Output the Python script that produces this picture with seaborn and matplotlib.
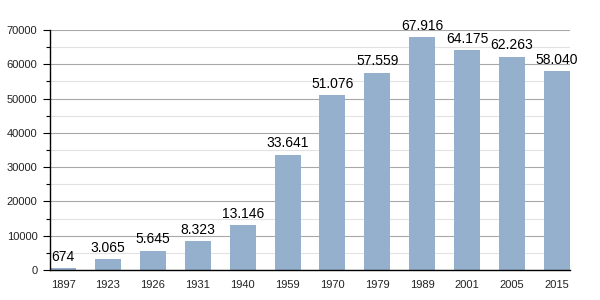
import matplotlib
matplotlib.use("Agg")
import matplotlib.pyplot as plt
from matplotlib.ticker import MultipleLocator
import seaborn as sns
import pandas as pd

years = ["1897", "1923", "1926", "1931", "1940", "1959", "1970", "1979", "1989", "2001", "2005", "2015"]
population = [674, 3065, 5645, 8323, 13146, 33641, 51076, 57559, 67916, 64175, 62263, 58040]
labels = ["674", "3.065", "5.645", "8.323", "13.146", "33.641", "51.076", "57.559", "67.916", "64.175", "62.263", "58.040"]

sns.set_theme(style="white")
plt.rcParams['font.family'] = ['Liberation Sans', 'DejaVu Sans']

df = pd.DataFrame({"year": years, "pop": population})

fig = plt.figure(figsize=(6, 3), dpi=100)
ax = fig.add_axes([50/600, 0.1, 520/600, 0.8])

ax.yaxis.set_major_locator(MultipleLocator(10000))
ax.yaxis.set_minor_locator(MultipleLocator(5000))
ax.grid(True, which="major", axis="y", color="#a8a8a8", linewidth=0.8)
ax.grid(True, which="minor", axis="y", color="#e2e2e2", linewidth=0.8)
ax.set_axisbelow(True)

sns.barplot(data=df, x="year", y="pop", color="#95b0cc", saturation=1, width=0.58,
            linewidth=0, edgecolor="none", ax=ax)

for i, (v, t) in enumerate(zip(population, labels)):
    ax.annotate(t, (i, v), xytext=(0, 3), textcoords="offset points",
                ha="center", va="bottom", fontsize=10, color="black")

ax.set_xlim(-0.29, 11.29)
ax.set_ylim(0, 70000)
ax.set_xlabel("")
ax.set_ylabel("")
for s in ["top", "right"]:
    ax.spines[s].set_visible(False)
ax.spines["left"].set_color("black")
ax.spines["bottom"].set_color("black")
ax.spines["left"].set_linewidth(1)
ax.spines["bottom"].set_linewidth(1)
ax.tick_params(axis="y", which="major", left=True, length=5, width=0.8, color="black",
               labelsize=8, labelcolor="#222222", pad=4)
ax.tick_params(axis="y", which="minor", left=True, length=3, width=0.8, color="black")
ax.tick_params(axis="x", bottom=False, labelsize=8, labelcolor="#222222", pad=1)

fig.savefig("out.png", dpi=100)
